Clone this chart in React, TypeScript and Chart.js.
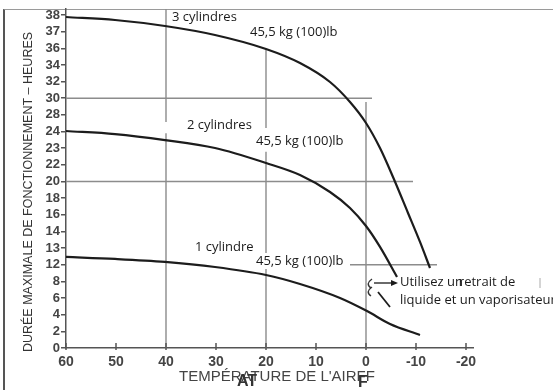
import { useEffect, useRef } from "react";
import { Chart, registerables } from "chart.js";

Chart.register(...registerables);

// Axis ticks
const X_TICKS = [60, 50, 40, 30, 20, 10, 0, -10, -20];
const Y_TICK_LABELS = [0, 2, 4, 6, 8, 12, 13, 14, 16, 18, 20, 22, 23, 24, 28, 30, 32, 34, 36, 37, 38];

// Curves: air temperature vs maximum operating hours
const TEMP_3CYL = [60, 50.2, 40.2, 30.2, 20, 13.2, 7.2, 3.2, 0, -2.8, -5.4, -8.4, -10.8, -12.8];
const HOURS_3CYL = [37.88, 37.7, 37.34, 36.8, 35.92, 34.23, 31.95, 29.55, 26.06, 23.01, 20.54, 16.22, 13.37, 11.22];

const TEMP_2CYL = [60, 50.2, 40.2, 30.2, 20, 13.2, 7.2, 3.2, 0, -2.8, -6.2];
const HOURS_2CYL = [24.13, 23.85, 23.49, 23.01, 22.11, 20.78, 18.74, 16.82, 14.65, 13.07, 9.06];

const TEMP_1CYL = [60, 50.2, 40.2, 30.2, 20, 13.2, 5.2, -0.2, -4.8, -10.8];
const HOURS_1CYL = [12.47, 12.35, 12.17, 11.46, 9.54, 7.69, 6.01, 4.44, 2.88, 1.56];

const TEMP_BREAK = [-2.4, -4.8];
const HOURS_BREAK = [6.72, 4.92];

// Reference (guide) lines
const REF_V_X = [40, 40, 20, 20, 0];
const REF_V_FROM = [38.4, 23.9, 35.9, 22.78, 29.54];
const REF_V_TO = [26.3, 0, 24.84, 0, 0];
const REF_H_Y = [30, 20, 12];
const REF_H_FROM = [60, 60, 3.2];
const REF_H_TO = [-1.2, -9.4, -14.2];

// Map an hour value onto the (non-uniform) vertical scale position
function toPos(h: number): number {
  const T = Y_TICK_LABELS;
  if (h <= T[0]) return (h - T[0]) / (T[1] - T[0]);
  for (let i = 0; i < T.length - 1; i++) {
    if (h >= T[i] && h <= T[i + 1]) return i + (h - T[i]) / (T[i + 1] - T[i]);
  }
  return T.length - 1 + (h - T[T.length - 1]);
}

const pts = (xs: number[], hs: number[]) => xs.map((x, i) => ({ x, y: toPos(hs[i]) }));

const CURVE = "#1c1c1c";
const GUIDE = "#8c8c8c";
const SANS = "'Liberation Sans', Arial, sans-serif";
const ANN = "'Open Sans', 'Liberation Sans', sans-serif";

const annotations = {
  id: "annotations",
  afterDraw(chart: any) {
    const ctx = chart.ctx as CanvasRenderingContext2D;
    const xs = chart.scales.x;
    const area = chart.chartArea;
    ctx.save();

    // x tick marks crossing the axis
    ctx.strokeStyle = "#555";
    ctx.lineWidth = 1.5;
    X_TICKS.forEach((v) => {
      const p = xs.getPixelForValue(v);
      ctx.beginPath();
      ctx.moveTo(p, area.bottom - 5);
      ctx.lineTo(p, area.bottom + 2);
      ctx.stroke();
    });

    const text = (t: string, x: number, y: number, font: string, color = "#1a1a1a", bg = false) => {
      ctx.font = font;
      ctx.textAlign = "left";
      ctx.textBaseline = "middle";
      if (bg) {
        const w = ctx.measureText(t).width;
        ctx.fillStyle = "#fff";
        ctx.fillRect(x - 2, y - 8, w + 4, 16);
      }
      ctx.fillStyle = color;
      ctx.fillText(t, x, y);
    };

    const f13 = `13px ${ANN}`;
    text("3 cylindres", 172, 17, f13);
    text("45,5 kg (100)lb", 250, 32, f13);
    text("2 cylindres", 187, 125, f13);
    text("45,5 kg (100)lb", 256, 141, f13, "#1a1a1a", true);
    text("1 cylindre", 195, 247, f13);
    text("45,5 kg (100)lb", 256, 261, f13, "#1a1a1a", true);

    ctx.font = f13;
    const w1 = ctx.measureText("Utilisez un").width;
    text("Utilisez un", 400, 282, f13);
    text("retrait de", 400 + w1 - 4, 282, f13);
    text("liquide et un vaporisateur", 400, 300, f13);

    // arrow
    const x0 = xs.getPixelForValue(0);
    ctx.strokeStyle = "#1a1a1a";
    ctx.fillStyle = "#1a1a1a";
    ctx.lineWidth = 1.3;
    ctx.beginPath();
    ctx.moveTo(x0 + 8, 283);
    ctx.lineTo(x0 + 27, 283);
    ctx.stroke();
    ctx.beginPath();
    ctx.moveTo(x0 + 32, 283);
    ctx.lineTo(x0 + 25, 280);
    ctx.lineTo(x0 + 25, 286);
    ctx.closePath();
    ctx.fill();

    // break squiggle
    ctx.lineWidth = 1.4;
    ctx.strokeStyle = "#333";
    ctx.beginPath();
    ctx.moveTo(x0 + 6, 279);
    ctx.quadraticCurveTo(x0 - 1, 284, x0 + 5, 288);
    ctx.stroke();
    ctx.beginPath();
    ctx.moveTo(x0 + 6, 287);
    ctx.quadraticCurveTo(x0 - 1, 292, x0 + 5, 296);
    ctx.stroke();

    // small mark at right
    ctx.strokeStyle = "#aaa";
    ctx.lineWidth = 1;
    ctx.beginPath();
    ctx.moveTo(540, 278);
    ctx.lineTo(540, 288);
    ctx.stroke();

    // x axis title (with overprinted letters as in the original)
    text("TEMPÉRATURE DE L'AIRFF", 179, 377, `15px ${SANS}`, "#444");
    text("AT", 237, 382, `bold 16px ${SANS}`, "#333");
    text("F", 358, 383, `bold 16px ${SANS}`, "#333");

    // y axis title
    ctx.translate(29, 192);
    ctx.rotate(-Math.PI / 2);
    ctx.font = `12.5px ${SANS}`;
    ctx.textAlign = "center";
    ctx.textBaseline = "middle";
    ctx.fillStyle = "#333";
    ctx.fillText("DURÉE MAXIMALE DE FONCTIONNEMENT – HEURES", 0, 0);

    ctx.restore();
  },
};

export default function App() {
  const ref = useRef<HTMLCanvasElement>(null);

  useEffect(() => {
    const curveStyle = {
      showLine: true,
      borderColor: CURVE,
      borderWidth: 2.2,
      pointRadius: 0,
      cubicInterpolationMode: "monotone" as const,
      fill: false,
    };
    const guideStyle = {
      showLine: true,
      borderColor: GUIDE,
      borderWidth: 1.4,
      pointRadius: 0,
      fill: false,
    };
    const datasets: any[] = [
      { ...curveStyle, label: "3 cylindres", data: pts(TEMP_3CYL, HOURS_3CYL) },
      { ...curveStyle, label: "2 cylindres", data: pts(TEMP_2CYL, HOURS_2CYL) },
      { ...curveStyle, label: "1 cylindre", data: pts(TEMP_1CYL, HOURS_1CYL) },
      { ...curveStyle, label: "break", borderWidth: 1.8, data: pts(TEMP_BREAK, HOURS_BREAK) },
    ];
    REF_V_X.forEach((x, i) => {
      datasets.push({
        ...guideStyle,
        label: `v${i}`,
        data: [
          { x, y: toPos(REF_V_FROM[i]) },
          { x, y: toPos(REF_V_TO[i]) },
        ],
      });
    });
    REF_H_Y.forEach((h, i) => {
      datasets.push({
        ...guideStyle,
        label: `h${i}`,
        data: [
          { x: REF_H_FROM[i], y: toPos(h) },
          { x: REF_H_TO[i], y: toPos(h) },
        ],
      });
    });

    const chart = new Chart(ref.current!, {
      type: "scatter",
      data: { datasets },
      options: {
        animation: false,
        responsive: false,
        devicePixelRatio: 1,
        layout: { padding: { left: 0, top: 9, right: 80, bottom: 0 } },
        plugins: { legend: { display: false }, tooltip: { enabled: false } },
        scales: {
          x: {
            type: "linear",
            reverse: true,
            min: -21.4,
            max: 60,
            afterBuildTicks: (s: any) => {
              s.ticks = X_TICKS.map((v) => ({ value: v }));
            },
            afterFit: (s: any) => {
              s.height = 42;
            },
            grid: { display: false },
            border: { display: true, color: "#555", width: 1.5 },
            ticks: {
              autoSkip: false,
              maxRotation: 0,
              padding: -2,
              color: "#444",
              font: { family: SANS, size: 14, weight: "bold" },
            },
          },
          y: {
            type: "linear",
            min: 0,
            max: 20.36,
            afterBuildTicks: (s: any) => {
              s.ticks = Y_TICK_LABELS.map((_, i) => ({ value: i }));
            },
            afterFit: (s: any) => {
              s.width = 66;
            },
            grid: { drawOnChartArea: false, tickLength: 5, color: "#555", lineWidth: 1.5 },
            border: { display: true, color: "#555", width: 1.5 },
            ticks: {
              autoSkip: false,
              padding: 1,
              color: "#444",
              font: { family: SANS, size: 13, weight: "bold" },
              callback: (v: any) => String(Y_TICK_LABELS[v as number] ?? ""),
            },
          },
        },
      } as any,
      plugins: [annotations],
    });
    return () => chart.destroy();
  }, []);

  return (
    <div style={{ position: "fixed", left: 0, top: 0, width: 553, height: 390, background: "#fff" }}>
      <div
        style={{
          position: "absolute",
          left: 3,
          top: 9,
          width: 550,
          height: 381,
          borderTop: "1px solid #9a9a9a",
          borderLeft: "2px solid #555",
          boxSizing: "border-box",
        }}
      />
      <canvas
        ref={ref}
        width={553}
        height={390}
        style={{ position: "absolute", left: 0, top: 0, width: 553, height: 390 }}
      />
    </div>
  );
}
